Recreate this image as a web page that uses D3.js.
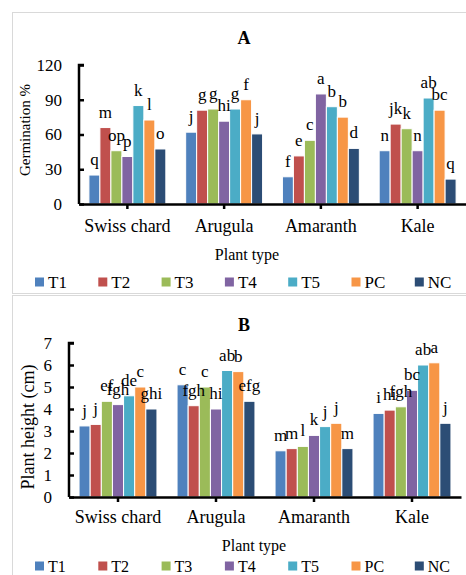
<!DOCTYPE html>
<html>
<head>
<meta charset="utf-8">
<script src="https://cdn.jsdelivr.net/npm/d3@7"></script>
<style>
  html, body { margin: 0; padding: 0; background: #fff; }
  svg { display: block; }
  text { font-family: "Liberation Serif", "Times New Roman", serif; fill: #000; }
</style>
</head>
<body>
<script>
// ---------- DATA ----------
const categories = ["Swiss chard", "Arugula", "Amaranth", "Kale"];
const seriesNames = ["T1", "T2", "T3", "T4", "T5", "PC", "NC"];

// Panel A: Germination % (per category, series order T1..NC)
const germSwissChard = [25, 66, 46, 41, 85, 72.5, 47.5];
const germArugula    = [62, 81, 82, 71.5, 82, 90, 60.5];
const germAmaranth   = [23.5, 41.5, 55, 95, 84, 75, 48];
const germKale       = [46, 69, 65, 46, 91.5, 81, 21.5];
const germLetSwissChard = ["q", "m", "op", "p", "k", "l", "o"];
const germLetArugula    = ["j", "g", "g", "hi", "g", "f", "j"];
const germLetAmaranth   = ["f", "e", "c", "a", "b", "b", "d"];
const germLetKale       = ["n", "jk", "k", "n", "ab", "bc", "q"];
const germTicks = [0, 30, 60, 90, 120];

// Panel B: Plant height (cm)
const htSwissChard = [3.23, 3.3, 4.35, 4.2, 4.6, 5.0, 4.0];
const htArugula    = [5.1, 4.15, 5.0, 4.0, 5.75, 5.7, 4.35];
const htAmaranth   = [2.1, 2.2, 2.3, 2.8, 3.2, 3.35, 2.2];
const htKale       = [3.8, 3.95, 4.1, 4.85, 6.0, 6.1, 3.35];
const htLetSwissChard = ["j", "j", "ef", "fgh", "de", "c", "ghi"];
const htLetArugula    = ["c", "fgh", "c", "hi", "ab", "b", "efg"];
const htLetAmaranth   = ["m", "m", "l", "k", "j", "j", "m"];
const htLetKale       = ["i", "hi", "fgh", "bc", "ab", "a", "j"];
const htTicks = [0, 1, 2, 3, 4, 5, 6, 7];

// ---------- STYLE ----------
const colors = ["#4F81BD", "#C0504D", "#9BBB59", "#8064A2", "#4BACC6", "#F79646", "#2C4D75"];
const W = 466, H = 575;

const svg = d3.select("body").append("svg").attr("width", W).attr("height", H);
svg.append("rect").attr("width", W).attr("height", H).attr("fill", "#fff");

// panel borders
svg.append("rect").attr("x", 12.5).attr("y", 12.5).attr("width", 470).attr("height", 281)
  .attr("fill", "none").attr("stroke", "#d9d9d9").attr("stroke-width", 1);
svg.append("rect").attr("x", 12.5).attr("y", 295.5).attr("width", 470).attr("height", 300)
  .attr("fill", "none").attr("stroke", "#d9d9d9").attr("stroke-width", 1);

function panel(cfg) {
  const g = svg.append("g");
  const x0 = d3.scaleBand().domain(categories).range([cfg.x0, cfg.x1]).padding(0);
  const groupW = x0.bandwidth() * 0.795;
  const x1 = d3.scaleBand().domain(seriesNames).range([0, groupW]).padding(0);
  const y = d3.scaleLinear().domain(cfg.domain).range([cfg.yBottom, cfg.yTop]);

  const rows = categories.map((c, i) => ({ cat: c, vals: cfg.values[i], lets: cfg.letters[i] }));

  // bars
  const grp = g.selectAll(".grp").data(rows).enter().append("g")
    .attr("transform", d => `translate(${x0(d.cat) + (x0.bandwidth() - groupW) / 2},0)`);
  grp.selectAll("rect").data(d => d.vals.map((v, j) => ({ s: seriesNames[j], v, j })))
    .enter().append("rect")
    .attr("x", d => x1(d.s))
    .attr("width", x1.bandwidth())
    .attr("y", d => y(d.v))
    .attr("height", d => y(0) - y(d.v))
    .attr("fill", d => colors[d.j])
    .attr("stroke", "#fff").attr("stroke-width", 1);
  grp.selectAll("text.lbl").data(d => d.lets.map((l, j) => ({ s: seriesNames[j], l, v: d.vals[j] })))
    .enter().append("text").attr("class", "lbl")
    .attr("x", d => x1(d.s) + x1.bandwidth() / 2)
    .attr("y", d => y(d.v) - 10)
    .attr("text-anchor", "middle")
    .attr("font-size", 17)
    .text(d => d.l);

  // y axis
  const yAxis = d3.axisRight(y).tickValues(cfg.ticks).tickSize(5).tickFormat("");
  const ya = g.append("g").attr("transform", `translate(${cfg.x0},0)`).call(yAxis);
  ya.selectAll("path, line").attr("stroke", "#000").attr("stroke-width", 2.5);
  ya.select(".domain").attr("d", `M5,${cfg.yTop}H0V${cfg.yBottom}`);
  g.selectAll(".ytl").data(cfg.ticks).enter().append("text")
    .attr("x", cfg.x0 - 17).attr("y", d => y(d)).attr("dy", "0.35em")
    .attr("text-anchor", "end").attr("font-size", 17).text(d => d);

  // x axis
  const xAxis = d3.axisBottom(x0).tickSize(5).tickSizeOuter(0).tickFormat("");
  const xa = g.append("g").attr("transform", `translate(0,${cfg.yBottom})`).call(xAxis);
  xa.selectAll("path, line").attr("stroke", "#000").attr("stroke-width", 2.5);
  g.selectAll(".xtl").data(categories).enter().append("text")
    .attr("x", d => x0(d) + x0.bandwidth() / 2).attr("y", cfg.catY)
    .attr("text-anchor", "middle").attr("font-size", 18).text(d => d);

  // titles
  g.append("text").attr("x", 244).attr("y", cfg.titleY).attr("text-anchor", "middle")
    .attr("font-size", 18).attr("font-weight", "bold").text(cfg.title);
  g.append("text").attr("x", cfg.xTitleX).attr("y", cfg.xTitleY).attr("text-anchor", "middle")
    .attr("font-size", 16).text("Plant type");
  g.append("text").attr("transform", `translate(${cfg.yTitleX},${cfg.yTitleY}) rotate(-90)`)
    .attr("text-anchor", "middle").attr("font-size", cfg.yTitleSize).text(cfg.yTitle);

  // legend
  const lg = g.selectAll(".lg").data(seriesNames).enter().append("g")
    .attr("transform", (d, i) => `translate(${35 + i * 63.3},${cfg.legendY})`);
  lg.append("rect").attr("x", 0).attr("y", -4.5).attr("width", 9).attr("height", 9)
    .attr("fill", (d, i) => colors[i]);
  lg.append("text").attr("x", 13).attr("y", 0).attr("dy", "0.35em").attr("font-size", cfg.legendSize).text(d => d);
}

panel({
  title: "A", titleY: 44,
  x0: 79, x1: 466, yTop: 65, yBottom: 204, domain: [0, 120], ticks: germTicks,
  values: [germSwissChard, germArugula, germAmaranth, germKale],
  letters: [germLetSwissChard, germLetArugula, germLetAmaranth, germLetKale],
  catY: 232, xTitleX: 247, xTitleY: 260,
  yTitle: "Germination %", yTitleX: 30, yTitleY: 130, yTitleSize: 15,
  legendY: 282, legendSize: 17
});

panel({
  title: "B", titleY: 331,
  x0: 69, x1: 461, yTop: 343, yBottom: 497, domain: [0, 7], ticks: htTicks,
  values: [htSwissChard, htArugula, htAmaranth, htKale],
  letters: [htLetSwissChard, htLetArugula, htLetAmaranth, htLetKale],
  catY: 523, xTitleX: 254, xTitleY: 551,
  yTitle: "Plant height (cm)", yTitleX: 34, yTitleY: 427, yTitleSize: 18,
  legendY: 566, legendSize: 16
});
</script>
</body>
</html>
